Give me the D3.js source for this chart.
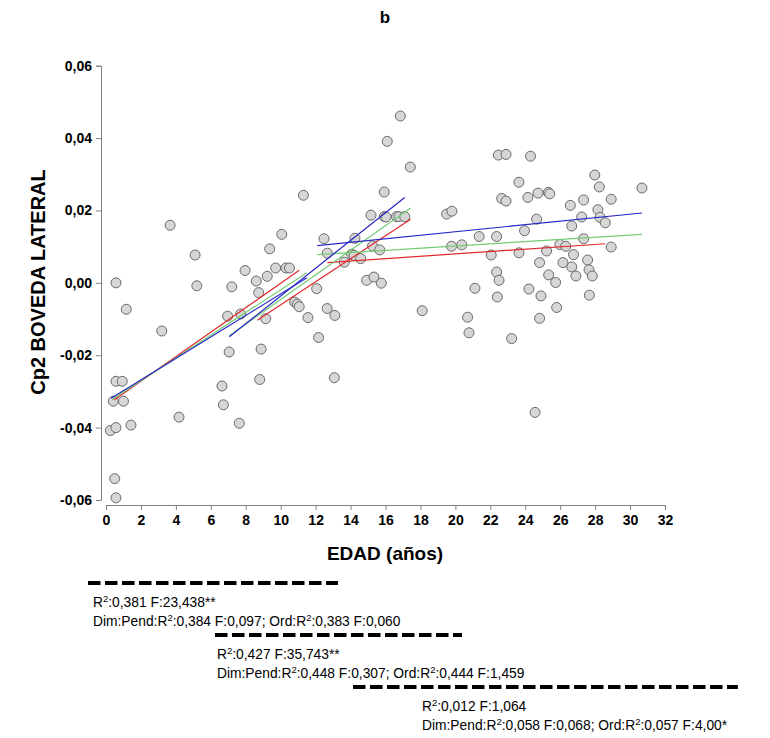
<!DOCTYPE html>
<html><head><meta charset="utf-8">
<script src="https://cdn.jsdelivr.net/npm/d3@7"></script>
<style>body{margin:0;background:#fff}svg{display:block}text{font-family:"Liberation Sans",Arial,sans-serif}</style>
</head><body><svg id="c" width="770" height="738"></svg>
<script>
// ---- data ----
const ages = [0.25,0.42,0.5,0.57,0.57,0.57,0.57,0.93,1.0,1.16,1.43,
3.19,3.67,4.18,5.1,5.2,6.64,6.72,6.96,7.05,7.2,7.63,7.71,7.96,
8.6,8.74,8.8,8.88,9.14,9.23,9.37,9.71,10.06,10.3,10.5,10.8,10.95,11.06,11.3,11.56,12.06,12.17,
12.48,12.66,12.67,13.07,13.1,13.64,14.06,14.2,14.25,14.58,14.92,15.17,15.26,15.34,15.67,15.76,15.93,15.93,16.03,16.1,16.63,16.77,16.85,17.1,17.42,18.1,
19.5,19.8,19.78,20.37,20.7,20.78,21.12,21.36,22.05,22.36,22.36,22.5,22.4,22.46,22.9,22.65,22.9,23.22,23.64,23.64,23.96,
24.15,24.21,24.3,24.56,24.65,24.73,24.82,24.82,24.9,25.22,25.32,25.4,25.34,25.74,25.8,25.98,26.32,26.16,26.58,26.66,26.66,26.76,26.9,27.23,27.34,27.34,27.57,27.65,27.84,27.67,27.98,28.16,28.24,28.28,28.58,28.92,28.92,30.68];
const cp2 = [-0.0408,-0.0327,-0.0541,-0.0594,-0.0400,-0.0272,0.0000,-0.0272,-0.0327,-0.0073,-0.0393,
-0.0133,0.0159,-0.0371,0.0077,-0.0008,-0.0285,-0.0337,-0.0092,-0.0191,-0.0011,-0.0388,-0.0086,0.0034,
0.0005,-0.0027,-0.0267,-0.0183,-0.0099,0.0018,0.0094,0.0041,0.0134,0.0041,0.0041,-0.0053,-0.0059,-0.0066,0.0242,-0.0096,-0.0016,-0.0151,
0.0122,-0.0071,0.0082,-0.0262,-0.0090,0.0057,0.0079,0.0076,0.0123,0.0067,0.0007,0.0187,0.0102,0.0016,0.0091,-0.0001,0.0251,0.0183,0.0182,0.0391,0.0183,0.0183,0.0461,0.0183,0.0320,-0.0077,
0.0190,0.0198,0.0101,0.0105,-0.0095,-0.0138,-0.0015,0.0128,0.0077,0.0128,0.0030,0.0007,-0.0039,0.0353,0.0355,0.0233,0.0226,-0.0154,0.0278,0.0083,0.0144,
0.0236,-0.0017,0.0350,-0.0358,0.0176,0.0248,0.0056,-0.0098,-0.0036,0.0088,0.0250,0.0246,0.0022,0.0001,-0.0068,0.0106,0.0101,0.0056,0.0214,0.0157,0.0044,0.0078,0.0019,0.0182,0.0229,0.0122,0.0063,0.0036,0.0019,-0.0034,0.0298,0.0202,0.0265,0.0181,0.0166,0.0231,0.0099,0.0262];

// regression segments [x1,y1,x2,y2] for each of the three age groups
const redSegs   = [[0.46,-0.0324,11.06,0.0035],[8.66,-0.0103,17.44,0.0176],[12.67,0.0056,28.58,0.0108]];
const greenSegs = [[0.35,-0.0322,11.5,0.0028],[7.06,-0.0146,17.44,0.0207],[12.1,0.0078,30.68,0.0134]];
const blueSegs  = [[0.29,-0.0319,11.5,0.0014],[7.06,-0.0149,17.1,0.0236],[12.1,0.0103,30.68,0.0193]];

const xTicks = d3.range(0,33,2);
const yTicks = [-0.06,-0.04,-0.02,0,0.02,0.04,0.06];

// annotation groups: dashed bar extent (in age units) and text lines
const annoRanges = [[-1.03,13.28],[6.24,20.38],[14.14,36.17]];
const annoLine1 = [["R","2",":0,381 F:23,438**"],["R","2",":0,427 F:35,743**"],["R","2",":0,012 F:1,064"]];
const annoLine2 = [
 ["Dim:Pend:R","2",":0,384 F:0,097; Ord:R","2",":0,383 F:0,060"],
 ["Dim:Pend:R","2",":0,448 F:0,307; Ord:R","2",":0,444 F:1,459"],
 ["Dim:Pend:R","2",":0,058 F:0,068; Ord:R","2",":0,057 F:4,00*"]];

// ---- drawing ----
const svg = d3.select("#c");
const x = d3.scaleLinear([0,32],[106,665]);
const y = d3.scaleLinear([-0.06,0.06],[500,65.7]);
const fmt = v => (v<0?"-":"") + Math.abs(v).toFixed(2).replace(".",",");

svg.append("text").attr("x",385).attr("y",23).attr("text-anchor","middle")
  .attr("font-size",17).attr("font-weight","bold").text("b");

const ya = svg.append("g").attr("transform","translate(101,0)")
  .call(d3.axisLeft(y).tickValues(yTicks).tickFormat(fmt).tickSizeOuter(0).tickSize(5).tickPadding(4));
const xa = svg.append("g").attr("transform","translate(0,505)")
  .call(d3.axisBottom(x).tickValues(xTicks).tickFormat(d=>d).tickSizeOuter(0).tickSize(5).tickPadding(5));
[ya,xa].forEach(a=>{
  a.selectAll("path,line").attr("stroke","#808080");
  a.selectAll("text").attr("font-size",14).attr("font-weight","bold").attr("fill","#000")
   .attr("font-family",'"Liberation Sans",Arial,sans-serif');
});

svg.append("text").attr("transform","translate(45,282) rotate(-90)").attr("text-anchor","middle")
  .attr("font-size",20).attr("font-weight","bold").text("Cp2 BOVEDA LATERAL");
svg.append("text").attr("x",385).attr("y",560).attr("text-anchor","middle")
  .attr("font-size",19).attr("font-weight","bold").text("EDAD (años)");

svg.append("g").selectAll("circle").data(ages.map((a,i)=>[a,cp2[i]])).join("circle")
  .attr("cx",d=>x(d[0])).attr("cy",d=>y(d[1])).attr("r",5)
  .attr("fill","#d6d6d6").attr("stroke","#6a6a6a").attr("stroke-width",1);

[[redSegs,"#e0282c"],[greenSegs,"#72cc72"],[blueSegs,"#2424c8"]].forEach(([segs,col])=>{
  svg.append("g").selectAll("line").data(segs).join("line")
    .attr("x1",d=>x(d[0])).attr("y1",d=>y(d[1])).attr("x2",d=>x(d[2])).attr("y2",d=>y(d[3]))
    .attr("stroke",col).attr("stroke-width",1.2);
});

// annotations
const annoY = [583,635,687];
const textX = [93,217,422];
function rich(t, parts){
  parts.forEach((p,i)=>{
    if(i%2===1) t.append("tspan").attr("font-size",9.5).attr("dy",-5).text(p);
    else t.append("tspan").attr("dy", i>0?5:0).text(p);
  });
}
annoRanges.forEach((r,i)=>{
  svg.append("line").attr("x1",x(r[0])).attr("x2",x(r[1])).attr("y1",annoY[i]).attr("y2",annoY[i])
    .attr("stroke","#000").attr("stroke-width",3.8).attr("stroke-dasharray","12.5,4.5");
  const t1 = svg.append("text").attr("x",textX[i]).attr("y",annoY[i]+24).attr("font-size",13.8);
  rich(t1, annoLine1[i]);
  const t2 = svg.append("text").attr("x",textX[i]).attr("y",annoY[i]+43).attr("font-size",13.8);
  rich(t2, annoLine2[i]);
});
</script></body></html>
